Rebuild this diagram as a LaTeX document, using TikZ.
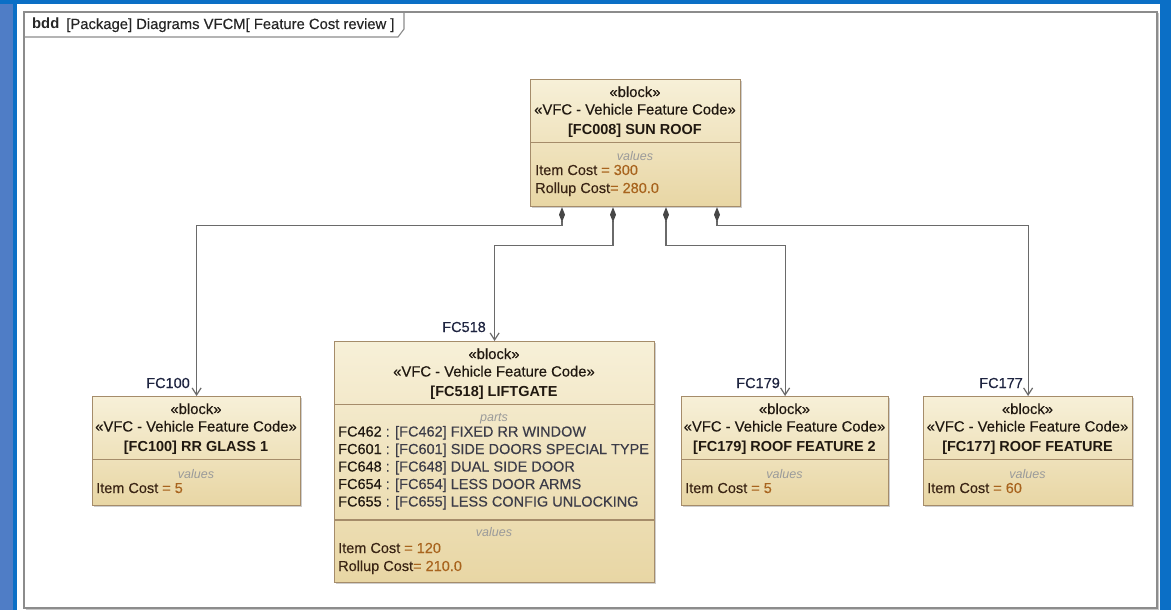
\documentclass[tikz,border=0pt]{standalone}
\usepackage{fontspec}
\setmainfont{Liberation Sans}
\newfontfamily\heavyfont{Liberation Sans}[FakeBold=0.3]
\usetikzlibrary{arrows.meta,shadows}

\definecolor{bluedark}{HTML}{0B6FC6}
\definecolor{bluelight}{HTML}{4F7DC6}
\definecolor{blockfilltop}{HTML}{F7F0D8}
\definecolor{blockfillbot}{HTML}{E8D6A4}
\definecolor{blockedge}{HTML}{A58C6A}
\definecolor{hdrtext}{HTML}{201810}
\definecolor{attrtext}{HTML}{3A2414}
\definecolor{valtext}{HTML}{A8641E}
\definecolor{parttext}{HTML}{3C3C48}
\definecolor{compgray}{HTML}{9A9A9A}
\definecolor{conngray}{HTML}{6A6A6A}
\definecolor{labeltext}{HTML}{1E2440}
\definecolor{framegray}{HTML}{8C8C8C}

\tikzset{
  blockbox/.style={draw=blockedge, line width=1.2pt, top color=blockfilltop,
    bottom color=blockfillbot, inner sep=0pt,
    drop shadow={shadow xshift=1.6pt, shadow yshift=-1.6pt, opacity=0.35, fill=black!55}},
  divider/.style={draw=blockedge, line width=1.2pt},
  hdr/.style={font=\heavyfont\fontsize{14.8}{17}\selectfont, text=hdrtext, anchor=base, inner sep=0pt},
  hdrb/.style={hdr, font=\rmfamily\fontsize{14.5}{17}\selectfont\bfseries},
  comp/.style={font=\fontsize{12.5}{14}\selectfont\itshape, text=compgray, anchor=base, inner sep=0pt},
  attr/.style={font=\heavyfont\fontsize{14.5}{17}\selectfont, text=attrtext, anchor=base west, inner sep=0pt},
  part/.style={font=\heavyfont\fontsize{14.5}{17}\selectfont, text=parttext, anchor=base west, inner sep=0pt},
  rolename/.style={font=\heavyfont\fontsize{14.5}{16}\selectfont, text=labeltext, anchor=base east, inner sep=0pt},
  conn/.style={draw=conngray, line width=1.2pt,
    {Diamond[length=15pt,width=6pt,fill=black!72,color=black!72]}-{Straight Barb[length=7pt,width=9pt,color=conngray]}},
}

% header of a VFC block: name, centre x, top y, title
\newcommand\vfchead[4]{%
  \node[hdr] (#1-st1) at (#2,#3+18) {«block»};
  \node[hdr] (#1-st2) at (#2,#3+35.5) {«VFC - Vehicle Feature Code»};
  \node[hdrb] (#1-ttl) at (#2,#3+55.5) {#4};
  \draw[divider] (#1.west |- 0,#3+63.5) -- (#1.east |- 0,#3+63.5);
}

\begin{document}
\begin{tikzpicture}[x=1pt,y=-1pt]
\useasboundingbox (0,0) rectangle (1171,610);

% window background
\fill[white] (0,0) rectangle (1171,610);
\fill[bluelight] (0,0) rectangle (13,610);
\fill[bluedark] (13,0) rectangle (17,610);
\fill[bluedark] (0,0) rectangle (1171,4);
\fill[bluedark] (1160,0) rectangle (1171,610);

% diagram frame with its name tab
\draw[black!22, line width=1.5pt] (25.5,609.5) -- (1158.6,609.5) -- (1158.6,13.5);
\draw[framegray, line width=1.2pt] (24,12) rectangle (1157,608);
\draw[framegray, line width=1.1pt] (24,37) -- (398,37) -- (404,29) -- (404,12);
\node[font=\heavyfont\fontsize{14.8}{16}\selectfont, anchor=base west, inner sep=0pt, text=black!85] (frametitle) at (32,29)
  {{\rmfamily\bfseries bdd}\hspace{7pt}[Package] Diagrams VFCM[ Feature Cost review ]};

% blocks
\node[blockbox, minimum width=210pt, minimum height=127pt, anchor=north west] (sun) at (530,79) {};
\node[blockbox, minimum width=208pt, minimum height=109pt, anchor=north west] (fc100) at (92,396) {};
\node[blockbox, minimum width=320pt, minimum height=241pt, anchor=north west] (lift) at (334,341) {};
\node[blockbox, minimum width=207pt, minimum height=109pt, anchor=north west] (fc179) at (681,396) {};
\node[blockbox, minimum width=209pt, minimum height=109pt, anchor=north west] (fc177) at (923,396) {};

% SUN ROOF
\vfchead{sun}{635}{79}{[FC008] SUN ROOF}
\node[comp] (sun-vals) at (635,160) {values};
\node[attr] (sun-item) at (535,175) {Item Cost \textcolor{valtext}{= 300}};
\node[attr] (sun-roll) at (535,193) {Rollup Cost\textcolor{valtext}{ = 280.0}};

% RR GLASS 1
\vfchead{fc100}{196}{396}{[FC100] RR GLASS 1}
\node[comp] (fc100-vals) at (196,478) {values};
\node[attr] (fc100-item) at (96,493) {Item Cost \textcolor{valtext}{= 5}};

% LIFTGATE
\vfchead{lift}{494}{341}{[FC518] LIFTGATE}
\node[comp] (lift-parts) at (494,421) {parts};
\node[part] (lift-p1) at (338,436.5) {\textcolor{hdrtext}{FC462} : [FC462] FIXED RR WINDOW};
\node[part] (lift-p2) at (338,454) {\textcolor{hdrtext}{FC601} : [FC601] SIDE DOORS SPECIAL TYPE};
\node[part] (lift-p3) at (338,471.5) {\textcolor{hdrtext}{FC648} : [FC648] DUAL SIDE DOOR};
\node[part] (lift-p4) at (338,489) {\textcolor{hdrtext}{FC654} : [FC654] LESS DOOR ARMS};
\node[part] (lift-p5) at (338,506.5) {\textcolor{hdrtext}{FC655} : [FC655] LESS CONFIG UNLOCKING};
\draw[divider] (lift.west |- 0,520) -- (lift.east |- 0,520);
\node[comp] (lift-vals) at (494,536) {values};
\node[attr] (lift-item) at (338,553) {Item Cost \textcolor{valtext}{= 120}};
\node[attr] (lift-roll) at (338,571) {Rollup Cost\textcolor{valtext}{ = 210.0}};

% ROOF FEATURE 2
\vfchead{fc179}{784.5}{396}{[FC179] ROOF FEATURE 2}
\node[comp] (fc179-vals) at (784.5,478) {values};
\node[attr] (fc179-item) at (685,493) {Item Cost \textcolor{valtext}{= 5}};

% ROOF FEATURE
\vfchead{fc177}{1027.5}{396}{[FC177] ROOF FEATURE}
\node[comp] (fc177-vals) at (1027.5,478) {values};
\node[attr] (fc177-item) at (927,493) {Item Cost \textcolor{valtext}{= 60}};

% composition connectors
\coordinate (d1) at (sun.south -| 562,0);
\coordinate (d2) at (sun.south -| 613,0);
\coordinate (d3) at (sun.south -| 666,0);
\coordinate (d4) at (sun.south -| 717,0);
\draw[conn] (d1) -- ++(0,18) -| (fc100.north);
\draw[conn] (d2) -- ++(0,38) -| (lift.north);
\draw[conn] (d3) -- ++(0,38) -| (fc179.north);
\draw[conn] (d4) -- ++(0,18) -| (fc177.north);

% part role names
\node[rolename] (r100) at (190,388) {FC100};
\node[rolename] (r518) at (486,332) {FC518};
\node[rolename] (r179) at (780,388) {FC179};
\node[rolename] (r177) at (1023,388) {FC177};
\end{tikzpicture}
\end{document}
